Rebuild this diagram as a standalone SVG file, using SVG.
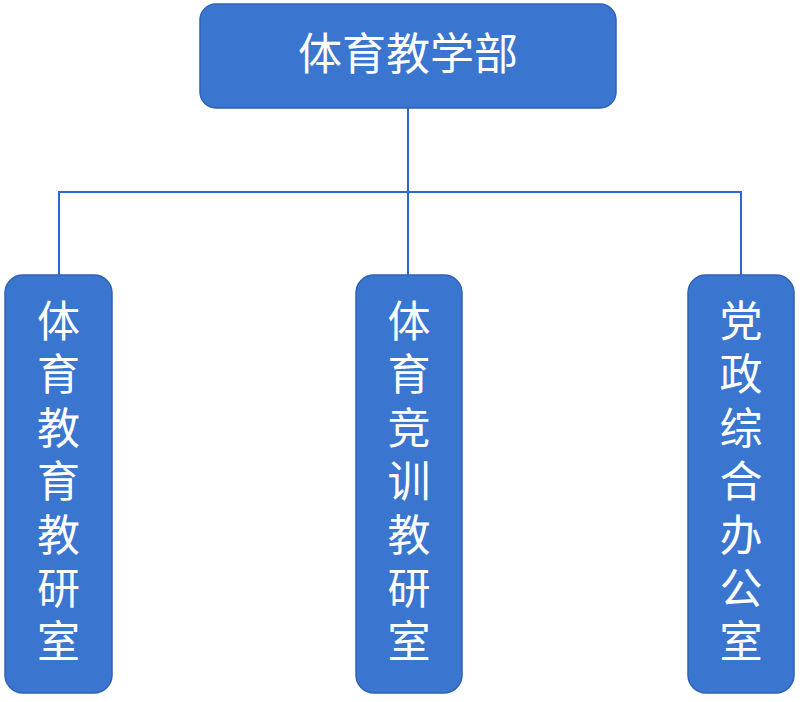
<svg xmlns="http://www.w3.org/2000/svg" width="800" height="702" viewBox="0 0 800 702">
<style>
.box{fill:#3a76d0;stroke:#2f62b3;stroke-width:1.5}
.t{fill:#fff;font-family:"Noto Sans CJK SC","Noto Sans",sans-serif;text-anchor:middle}
.top{font-size:44px}
.v{font-size:43px}
.ln{stroke:#2c66d6;stroke-width:2;fill:none}
</style>
<rect width="800" height="702" fill="#fff"/>
<g id="connectors">
<line class="ln" x1="408" y1="108" x2="408" y2="276"/>
<line class="ln" x1="58" y1="192" x2="742" y2="192"/>
<line class="ln" x1="59" y1="192" x2="59" y2="276"/>
<line class="ln" x1="741" y1="192" x2="741" y2="276"/>
</g>
<g id="n0">
<rect class="box" x="200" y="4" width="416" height="104" rx="16"/>
<text class="t top" x="408" y="70">体育教学部</text>
</g>
<g id="n1">
<rect class="box" x="5" y="275" width="107" height="418" rx="18"/>
<text class="t v" x="58.5">
<tspan x="58.5" y="337">体</tspan><tspan x="58.5" y="390">育</tspan><tspan x="58.5" y="444">教</tspan><tspan x="58.5" y="497">育</tspan><tspan x="58.5" y="551">教</tspan><tspan x="58.5" y="604">研</tspan><tspan x="58.5" y="657">室</tspan>
</text>
</g>
<g id="n2">
<rect class="box" x="356" y="275" width="106" height="418" rx="18"/>
<text class="t v" x="409">
<tspan x="409" y="337">体</tspan><tspan x="409" y="390">育</tspan><tspan x="409" y="444">竞</tspan><tspan x="409" y="497">训</tspan><tspan x="409" y="551">教</tspan><tspan x="409" y="604">研</tspan><tspan x="409" y="657">室</tspan>
</text>
</g>
<g id="n3">
<rect class="box" x="688" y="275" width="106" height="418" rx="18"/>
<text class="t v" x="741">
<tspan x="741" y="337">党</tspan><tspan x="741" y="390">政</tspan><tspan x="741" y="444">综</tspan><tspan x="741" y="497">合</tspan><tspan x="741" y="551">办</tspan><tspan x="741" y="604">公</tspan><tspan x="741" y="657">室</tspan>
</text>
</g>
</svg>
